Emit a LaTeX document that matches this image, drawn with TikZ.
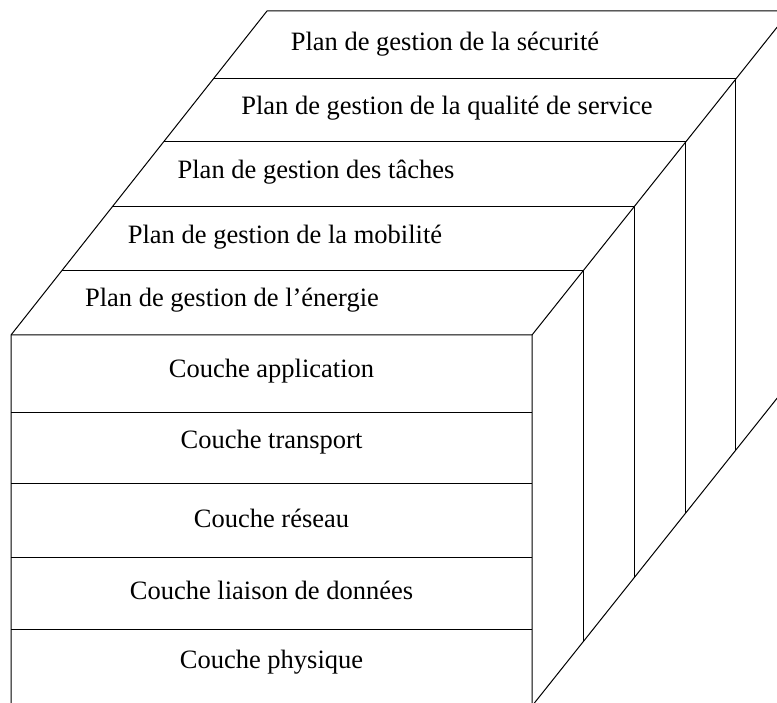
\documentclass[tikz,border=0pt]{standalone}
\usepackage{fontspec}
\setmainfont{Liberation Serif}
\usetikzlibrary{calc}
\begin{document}
\begin{tikzpicture}[x=1pt,y=-1pt,
  edge/.style={line width=1pt},
  lbl/.style={font=\fontsize{26.5}{30}\selectfont, inner sep=0pt, anchor=center}]
\useasboundingbox (0,0) rectangle (777,703);
\clip (0,0) rectangle (777,703);
% box corners
\coordinate (FL) at (11,335);
\coordinate (FR) at (532,335);
\coordinate (BL) at (267,11);
\coordinate (BR) at (790,11);
\coordinate (FLb) at (11,706);
\coordinate (FRb) at (532,706);
\coordinate (BRb) at (790,382);
% plane boundaries on the top face (left / right ends)
\coordinate (L1) at (61.6,271);  \coordinate (R1) at (583,271);
\coordinate (L2) at (112,207);   \coordinate (R2) at (634,207);
\coordinate (L3) at (163.5,142); \coordinate (R3) at (685.7,142);
\coordinate (L4) at (213.3,79);  \coordinate (R4) at (735.8,79);
% outline
\draw[edge] (FLb) -- (FL) -- (BL) -- (BR);
\draw[edge] (FL) -- (FR) -- (BR);
\draw[edge] (FR) -- (FRb) -- (BRb);
% plane slices
\foreach \i in {1,...,4}{
  \draw[edge] (L\i) -- (R\i) -- ($(R\i)+(0,371)$);
}
% layer separators on the front face
\foreach \y in {413,483,557,629}{
  \draw[edge] (11,\y) -- (532,\y);
}
% plane labels
\node[lbl] (p5) at (445,44)  {Plan de gestion de la sécurité};
\node[lbl] (p4) at (447,108) {Plan de gestion de la qualité de service};
\node[lbl] (p3) at (316,172) {Plan de gestion des tâches};
\node[lbl] (p2) at (285,237) {Plan de gestion de la mobilité};
\node[lbl] (p1) at (232,300) {Plan de gestion de l’énergie};
% layer labels
\node[lbl] (c5) at (271.5,371) {Couche application};
\node[lbl] (c4) at (271.5,442) {Couche transport};
\node[lbl] (c3) at (271.5,518) {Couche réseau};
\node[lbl] (c2) at (271.5,590) {Couche liaison de données};
\node[lbl] (c1) at (271.5,662) {Couche physique};
\end{tikzpicture}
\end{document}
